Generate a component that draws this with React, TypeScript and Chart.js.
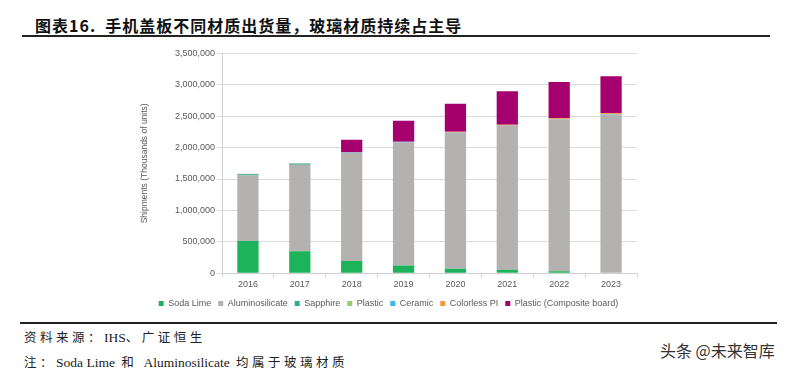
import React, { useEffect, useRef } from "react";
import { Chart, registerables } from "chart.js";

Chart.register(...registerables);

const years = ["2016", "2017", "2018", "2019", "2020", "2021", "2022", "2023"];
const sodaLime = [511000, 351000, 196000, 122000, 69000, 53000, 32000, 8000];
const aluminosilicate = [1043000, 1374000, 1721000, 1964000, 2172000, 2295000, 2417000, 2521000];
const sapphire = [20000, 18000, 4000, 3000, 2000, 2000, 2000, 2000];
const plastic = [8000, 8000, 2000, 1000, 1000, 1000, 1000, 1000];
const ceramic = [2000, 2000, 2000, 2000, 2000, 2000, 2000, 2000];
const colorlessPI = [0, 0, 0, 0, 5000, 12000, 12000, 12000];
const plasticComposite = [0, 0, 200000, 337000, 448000, 531000, 579000, 590000];

const titleText = "图表16.  手机盖板不同材质出货量，玻璃材质持续占主导";
const sourceParts = ["资料来源：", "IHS", "、广证恒生"];
const noteParts = ["注：", "Soda Lime", " 和 ", "Aluminosilicate", " 均属于玻璃材质"];
const watermark = "头条 @未来智库";
const yTitle = "Shipments (Thousands of units)";

const isLatin = (s: string) => /^[A-Za-z ]+$/.test(s);

function Mixed({ parts, top }: { parts: string[]; top: number }) {
  return (
    <div
      style={{
        position: "absolute",
        left: 24,
        top,
        color: "#222",
        whiteSpace: "pre",
        lineHeight: "16px",
      }}
    >
      {parts.map((p, i) =>
        isLatin(p) ? (
          <span key={i} style={{ fontFamily: "'Liberation Serif', serif", fontSize: 13.5 }}>
            {p}
          </span>
        ) : (
          <span
            key={i}
            style={{ fontFamily: "'Noto Sans CJK SC', serif", fontSize: 12.5, letterSpacing: "3.5px" }}
          >
            {p}
          </span>
        )
      )}
    </div>
  );
}

export default function App() {
  const ref = useRef<HTMLCanvasElement | null>(null);
  useEffect(() => {
    if (!ref.current) return;
    const mk = (label: string, data: number[], color: string) => ({
      label,
      data,
      backgroundColor: color,
      borderWidth: 0,
      barPercentage: 0.41,
      categoryPercentage: 1,
    });
    const chart = new Chart(ref.current, {
      type: "bar",
      data: {
        labels: years,
        datasets: [
          mk("Soda Lime", sodaLime, "#1db35a"),
          mk("Aluminosilicate", aluminosilicate, "#b3b2b1"),
          mk("Sapphire", sapphire, "#35a89a"),
          mk("Plastic", plastic, "#8fce6a"),
          mk("Ceramic", ceramic, "#3fb6e8"),
          mk("Colorless PI", colorlessPI, "#f7953a"),
          mk("Plastic (Composite board)", plasticComposite, "#a6006e"),
        ],
      },
      options: {
        animation: false,
        responsive: false,
        maintainAspectRatio: false,
        layout: { padding: { top: 4, right: 33, left: 0, bottom: 0 } },
        plugins: {
          tooltip: { enabled: false },
          legend: {
            position: "bottom",
            labels: {
              usePointStyle: true,
              pointStyle: "rect",
              pointStyleWidth: 5,
              boxWidth: 5,
              boxHeight: 5,
              padding: 7,
              color: "#595959",
              font: { family: "Liberation Sans, Arial", size: 9 },
            },
          },
        },
        scales: {
          x: {
            stacked: true,
            grid: {
              drawOnChartArea: false,
              drawTicks: true,
              tickLength: 4,
              color: "#d0d0d0",
            },
            border: { color: "#d0d0d0" },
            ticks: {
              color: "#595959",
              font: { family: "Liberation Sans, Arial", size: 9 },
              padding: 2,
            },
          },
          y: {
            stacked: true,
            min: 0,
            max: 3500000,
            afterFit: (s: any) => {
              s.width = 82;
            },
            grid: { color: "#dcdcdc", tickLength: 5 },
            border: { color: "#d0d0d0" },
            ticks: {
              stepSize: 500000,
              color: "#595959",
              padding: 2,
              font: { family: "Liberation Sans, Arial", size: 9 },
              callback: (v: any) => Number(v).toLocaleString("en-US"),
            },
            title: {
              display: true,
              text: yTitle,
              color: "#595959",
              font: { family: "Liberation Sans, Arial", size: 8.5 },
              padding: { top: 0, bottom: 0 },
            },
          },
        },
      },
    } as any);
    return () => chart.destroy();
  }, []);

  return (
    <div
      style={{
        position: "fixed",
        left: 0,
        top: 0,
        width: 792,
        height: 374,
        background: "#fff",
        overflow: "hidden",
      }}
    >
      <div
        style={{
          position: "absolute",
          left: 35,
          top: 15,
          fontFamily: "'Noto Sans CJK SC', serif",
          fontWeight: 700,
          fontSize: 16,
          letterSpacing: "1px",
          color: "#111",
          whiteSpace: "pre",
          lineHeight: "20px",
        }}
      >
        {titleText}
      </div>
      <div style={{ position: "absolute", left: 22, top: 35, width: 748, height: 2, background: "#222" }} />
      <canvas
        ref={ref}
        width={530}
        height={272}
        style={{ position: "absolute", left: 140, top: 46, width: 530, height: 272 }}
      />
      <div style={{ position: "absolute", left: 20, top: 322, width: 757, height: 2, background: "#222" }} />
      <Mixed parts={sourceParts} top={329} />
      <Mixed parts={noteParts} top={354} />
      <div
        style={{
          position: "absolute",
          left: 660,
          top: 340,
          fontFamily: "'Noto Sans CJK SC', sans-serif",
          fontSize: 16,
          color: "#333",
          whiteSpace: "pre",
          lineHeight: "20px",
        }}
      >
        {watermark}
      </div>
    </div>
  );
}
